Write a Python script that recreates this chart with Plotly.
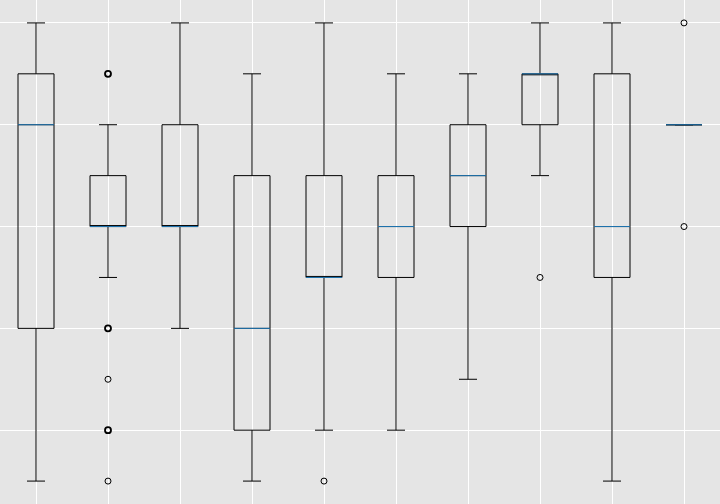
import plotly.graph_objects as go

positions = [1, 2, 3, 4, 5, 6, 7, 8, 9, 10]
q1 = [4, 6, 6, 2, 5, 5, 6, 8, 5, 8]
median = [8, 6, 6, 4, 5, 6, 7, 9, 6, 8]
q3 = [9, 7, 8, 7, 7, 7, 8, 9, 9, 8]
lower_whisker = [1, 5, 4, 1, 2, 2, 3, 7, 1, 8]
upper_whisker = [10, 8, 10, 9, 10, 9, 9, 10, 10, 8]

# outliers: (position, value, multiplicity)
outlier_pos = [2, 2, 2, 2, 2, 5, 8, 10, 10]
outlier_val = [9, 4, 3, 2, 1, 1, 5, 10, 6]
outlier_count = [2, 2, 1, 2, 1, 1, 1, 1, 1]

box_width = 0.5
median_color = "#1f77b4"

fig = go.Figure()
fig.add_trace(go.Box(
    x=positions, q1=q1, median=median, q3=q3,
    lowerfence=lower_whisker, upperfence=upper_whisker,
    width=box_width, whiskerwidth=0.5,
    fillcolor="rgba(0,0,0,0)",
    line=dict(color="black", width=1),
    boxpoints=False, showlegend=False, hoverinfo="skip",
))

# median segments
mx, my = [], []
for p, m in zip(positions, median):
    mx += [p - box_width / 2, p + box_width / 2, None]
    my += [m, m, None]
fig.add_trace(go.Scatter(x=mx, y=my, mode="lines",
                         line=dict(color=median_color, width=1),
                         showlegend=False, hoverinfo="skip"))

# outliers
fig.add_trace(go.Scatter(
    x=outlier_pos, y=outlier_val, mode="markers",
    marker=dict(symbol="circle-open", size=6, color="black",
                line=dict(width=[1.0 if c == 1 else 1.8 for c in outlier_count])),
    showlegend=False, hoverinfo="skip"))

fig.update_layout(
    width=720, height=504,
    margin=dict(l=0, r=0, t=0, b=0),
    paper_bgcolor="white",
    plot_bgcolor="#E5E5E5",
    showlegend=False,
    boxmode="overlay",
)
fig.update_xaxes(range=[0.5, 10.5], tickvals=positions, showticklabels=False,
                 showgrid=True, gridcolor="white", gridwidth=1, zeroline=False,
                 showline=False, ticks="")
fig.update_yaxes(range=[0.55, 10.45], tickvals=[2, 4, 6, 8, 10], showticklabels=False,
                 showgrid=True, gridcolor="white", gridwidth=1, zeroline=False,
                 showline=False, ticks="")

fig.write_html("out.html")
